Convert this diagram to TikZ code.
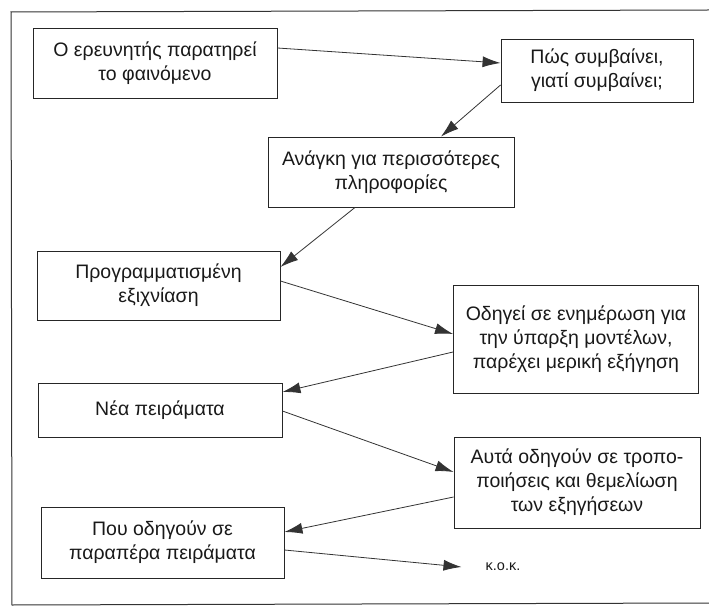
\documentclass[tikz,border=0pt]{standalone}
\usepackage{fontspec}
\setmainfont{Liberation Sans}
\usetikzlibrary{arrows.meta}
\begin{document}
\begin{tikzpicture}[x=1pt,y=-1pt,
  box/.style={draw=black!85, line width=0.9pt, align=center, inner sep=0pt,
    font=\fontsize{19.5}{24}\selectfont, text=black!90},
  conn/.style={draw=black!80, line width=0.8pt, -{Latex[length=18pt,width=11pt]}}]
\useasboundingbox (0,0) rectangle (709,609);
% frame
\draw[black!80, line width=1pt] (709,10) -- (11,12) -- (12,605) -- (709,603);
% boxes
\node[box, minimum width=244pt, minimum height=70pt] (b1) at (155,63) {Ο ερευνητής παρατηρεί\\το φαινόμενο};
\node[box, minimum width=192pt, minimum height=63pt] (b2) at (597,70.5) {Πώς συμβαίνει,\\γιατί συμβαίνει;};
\node[box, minimum width=246pt, minimum height=70pt] (b3) at (391,172) {Ανάγκη για περισσότερες\\πληροφορίες};
\node[box, minimum width=243pt, minimum height=69pt] (b4) at (158.5,285.5) {Προγραμματισμένη\\εξιχνίαση};
\node[box, minimum width=245pt, minimum height=108pt] (b5) at (576,339) {Οδηγεί σε ενημέρωση για\\την ύπαρξη μοντέλων,\\παρέχει μερική εξήγηση};
\node[box, minimum width=244pt, minimum height=54pt] (b6) at (160,410) {Νέα πειράματα};
\node[box, minimum width=246pt, minimum height=91pt] (b7) at (577,482.5) {Αυτά οδηγούν σε τροπο-\\ποιήσεις και θεμελίωση\\των εξηγήσεων};
\node[box, minimum width=243pt, minimum height=71pt] (b8) at (162.5,542.5) {Που οδηγούν σε\\παραπέρα πειράματα};
\node[inner xsep=24pt, font=\fontsize{14.5}{16}\selectfont, text=black!90] (kok) at (503,567) {κ.ο.κ.};
% connectors
\draw[conn] ([yshift=15pt]b1.east) -- ([yshift=7.5pt]b2.west);
\draw[conn] ([yshift=-14.5pt]b2.west) -- ([xshift=50pt]b3.north);
\draw[conn] ([xshift=-36pt]b3.south) -- ([yshift=18.5pt]b4.east);
\draw[conn] ([yshift=4.5pt]b4.east) -- ([yshift=5pt]b5.west);
\draw[conn] ([yshift=-13pt]b5.west) -- ([yshift=18pt]b6.east);
\draw[conn] ([yshift=-1pt]b6.east) -- ([yshift=10.5pt]b7.west);
\draw[conn] ([yshift=-14.5pt]b7.west) -- ([yshift=10.5pt]b8.east);
\draw[conn] ([yshift=-7.5pt]b8.east) -- (kok.west);
\end{tikzpicture}
\end{document}
